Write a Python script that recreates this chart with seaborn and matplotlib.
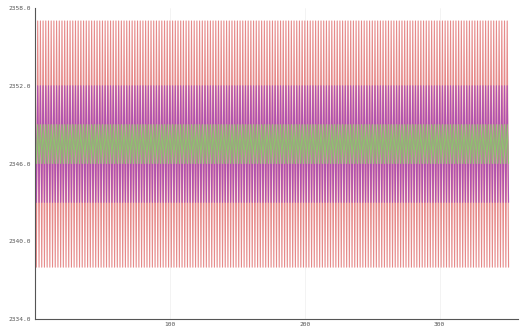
import numpy as np
import pandas as pd
import matplotlib
matplotlib.use("Agg")
import matplotlib.pyplot as plt
import seaborn as sns

# Poziomy sygnałów (próbki naprzemiennie góra/dół)
series_names = ["s1", "s2", "s3"]
high_levels = [2357.0, 2352.0, 2349.0]
low_levels = [2338.0, 2343.0, 2346.0]
n_samples = 352
colors = ["#e68a8a", "#b050b0", "#90c070"]

y_ticks = [2334.0, 2340.0, 2346.0, 2352.0, 2358.0]
x_ticks = [100, 200, 300]

rows = []
for name, hi, lo in zip(series_names, high_levels, low_levels):
    vals = np.tile([hi, lo], n_samples // 2)
    for i, v in enumerate(vals):
        rows.append((i, v, name))
df = pd.DataFrame(rows, columns=["sample", "value", "series"])

sns.set_style("white")
fig = plt.figure(figsize=(5.21, 3.28), dpi=100)
ax = fig.add_axes([35 / 521, 9 / 328, (518 - 35) / 521, (320 - 9) / 328])

sns.lineplot(data=df, x="sample", y="value", hue="series", palette=colors,
             legend=False, linewidth=0.8, ax=ax, estimator=None, sort=False)

ax.set_xlim(0, 358)
ax.set_ylim(2334, 2358)
ax.set_yticks(y_ticks)
ax.set_yticklabels([f"{t:.1f}" for t in y_ticks])
ax.set_xticks(x_ticks)
ax.set_xticklabels([str(t) for t in x_ticks])
ax.tick_params(axis="both", labelsize=4.5, colors="#555555", length=2, width=0.5, pad=1)
ax.tick_params(axis="x", pad=0.5)
for lab in ax.get_xticklabels() + ax.get_yticklabels():
    lab.set_family("DejaVu Sans Mono")
ax.set_xlabel("")
ax.set_ylabel("")
ax.grid(True, axis="x", color="#eeeeee", linewidth=0.5)
ax.set_axisbelow(True)
for side in ["top", "right"]:
    ax.spines[side].set_visible(False)
for side in ["left", "bottom"]:
    ax.spines[side].set_color("#555555")
    ax.spines[side].set_linewidth(0.8)

fig.savefig("out.png", dpi=100)
